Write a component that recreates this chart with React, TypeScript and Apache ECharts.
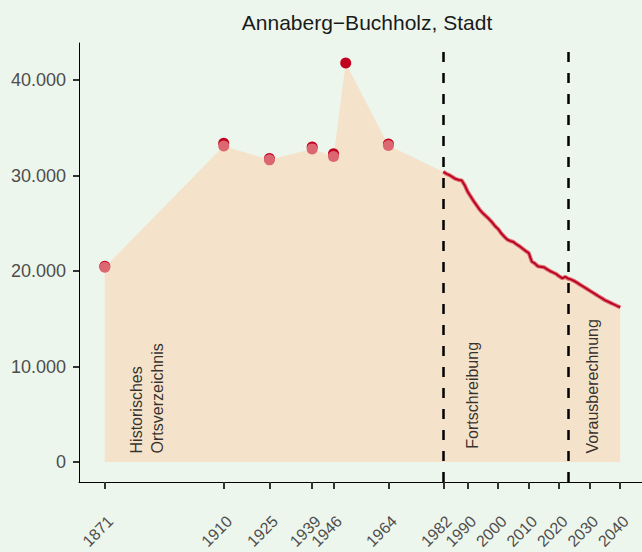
import React, { useEffect, useRef } from "react";
import * as echarts from "echarts";

const chartTitle = "Annaberg−Buchholz, Stadt";

// Historical census points (two overlapping point layers)
const histYears = [1871, 1910, 1925, 1939, 1946, 1950, 1964];
const histDark = [20500, 33400, 31800, 33000, 32300, 41800, 33300];
const histLight = [20400, 33100, 31650, 32800, 32000, null, 33150];

// Annual values: Fortschreibung (1982-2022) and Vorausberechnung (2023-2040)
const annualYears = [
  1982, 1983, 1984, 1985, 1986, 1987, 1988, 1989, 1990, 1991,
  1992, 1993, 1994, 1995, 1996, 1997, 1998, 1999, 2000, 2001,
  2002, 2003, 2004, 2005, 2006, 2007, 2008, 2009, 2010, 2011,
  2012, 2013, 2014, 2015, 2016, 2017, 2018, 2019, 2020, 2021,
  2022, 2023, 2024, 2025, 2026, 2027, 2028, 2029, 2030, 2031,
  2032, 2033, 2034, 2035, 2036, 2037, 2038, 2039, 2040,
];
const annualPop = [
  30400, 30200, 30050, 29850, 29650, 29550, 29500, 29000, 28300, 27800,
  27300, 26850, 26400, 26050, 25750, 25450, 25100, 24700, 24400, 23950,
  23600, 23300, 23150, 23050, 22800, 22600, 22350, 22100, 21900, 21000,
  20800, 20500, 20450, 20400, 20200, 20000, 19850, 19700, 19450, 19250,
  19400, 19200, 19100, 18950, 18750, 18550, 18350, 18150, 17950, 17750,
  17550, 17350, 17150, 16950, 16800, 16650, 16500, 16350, 16200,
];

const xTicks = [1871, 1910, 1925, 1939, 1946, 1964, 1982, 1990, 2000, 2010, 2020, 2030, 2040];
const yTicks = [0, 10000, 20000, 30000, 40000];
const breakYears = [1982, 2023];
const noteYears = [1885, 1991.5, 2031];
const noteValues = [900, 1400, 900];
const noteTexts = ["Historisches\nOrtsverzeichnis", "Fortschreibung", "Vorausberechnung"];

const FONT = "'Liberation Sans', Arial, Helvetica, sans-serif";

const fmt = (v: number) => String(v).replace(/\B(?=(\d{3})+(?!\d))/g, ".");

export default function App() {
  const ref = useRef<HTMLDivElement>(null);

  useEffect(() => {
    if (!ref.current) return;
    const chart = echarts.init(ref.current, undefined, { renderer: "svg" });

    const histArea = histYears.map((y, i) => [y, histLight[i] ?? histDark[i]]);
    const annual = annualYears.map((y, i) => [y, annualPop[i]]);
    const areaData = [...histArea, ...annual];
    const darkPts = histYears.map((y, i) => [y, histDark[i]]);
    const lightPts = histYears
      .map((y, i) => [y, histLight[i]])
      .filter((p) => p[1] !== null);
    const notes = noteYears.map((y, i) => ({ value: [y, noteValues[i]], name: noteTexts[i] }));

    chart.setOption({
      animation: false,
      backgroundColor: "#EDF6EC",
      textStyle: { fontFamily: FONT },
      title: {
        text: chartTitle,
        left: 362,
        textAlign: "center",
        top: 7,
        textStyle: { fontFamily: FONT, fontSize: 21, fontWeight: "normal", color: "#1A1A1A" },
      },
      grid: {
        left: 79,
        top: 43,
        width: 567,
        height: 439,
        containLabel: false,
        outerBoundsMode: "none",
      },
      xAxis: {
        type: "value",
        min: 1862.55,
        max: 2048.45,
        axisLine: { onZero: false, lineStyle: { color: "#000", width: 1 } },
        axisTick: { customValues: xTicks, length: 7, lineStyle: { color: "#333", width: 2 } },
        axisLabel: {
          customValues: xTicks,
          formatter: (v: number) => String(v),
          rotate: 45,
          align: "right",
          verticalAlign: "top",
          margin: 31,
          fontSize: 16,
          lineHeight: 16,
          color: "#4D4D4D",
          fontFamily: FONT,
        },
        splitLine: { show: false },
      },
      yAxis: {
        type: "value",
        min: -2090,
        max: 43890,
        axisLine: { show: true, onZero: false, lineStyle: { color: "#000", width: 1 } },
        axisTick: { show: true, customValues: yTicks, length: 6, lineStyle: { color: "#333", width: 2 } },
        axisLabel: {
          customValues: yTicks,
          formatter: (v: number) => fmt(v),
          margin: 13,
          fontSize: 18,
          color: "#4D4D4D",
          fontFamily: FONT,
        },
        splitLine: { show: false },
      },
      series: [
        {
          type: "line",
          data: areaData,
          showSymbol: false,
          lineStyle: { width: 0, opacity: 0 },
          areaStyle: { color: "#F5E2CB", opacity: 1 },
          silent: true,
          z: 1,
          markLine: {
            silent: true,
            symbol: ["none", "none"],
            label: { show: false },
            lineStyle: { color: "#000", type: [10, 11], width: 2.5 },
            data: breakYears.map((x) => ({ xAxis: x })),
          },
        },
        {
          type: "line",
          data: annual,
          showSymbol: false,
          lineStyle: { color: "#DE6E76", width: 4 },
          silent: true,
          z: 3,
        },
        {
          type: "line",
          data: annual,
          showSymbol: false,
          lineStyle: { color: "#B8001F", width: 1.8 },
          silent: true,
          z: 4,
        },
        {
          type: "scatter",
          data: darkPts,
          symbolSize: 11,
          itemStyle: { color: "#C0001E", opacity: 1 },
          silent: true,
          z: 5,
        },
        {
          type: "scatter",
          data: lightPts,
          symbolSize: 11,
          itemStyle: { color: "#DC6770", opacity: 1 },
          silent: true,
          z: 6,
        },
        {
          type: "scatter",
          data: notes,
          symbolSize: 0,
          silent: true,
          z: 7,
          label: {
            show: true,
            position: "inside",
            rotate: 90,
            align: "left",
            verticalAlign: "middle",
            formatter: (p: any) => p.name,
            fontSize: 16,
            lineHeight: 21,
            color: "#000",
            fontFamily: FONT,
          },
        },
      ],
    });

    return () => chart.dispose();
  }, []);

  return (
    <div
      ref={ref}
      style={{ position: "fixed", left: 0, top: 0, width: 642, height: 552 }}
    />
  );
}
